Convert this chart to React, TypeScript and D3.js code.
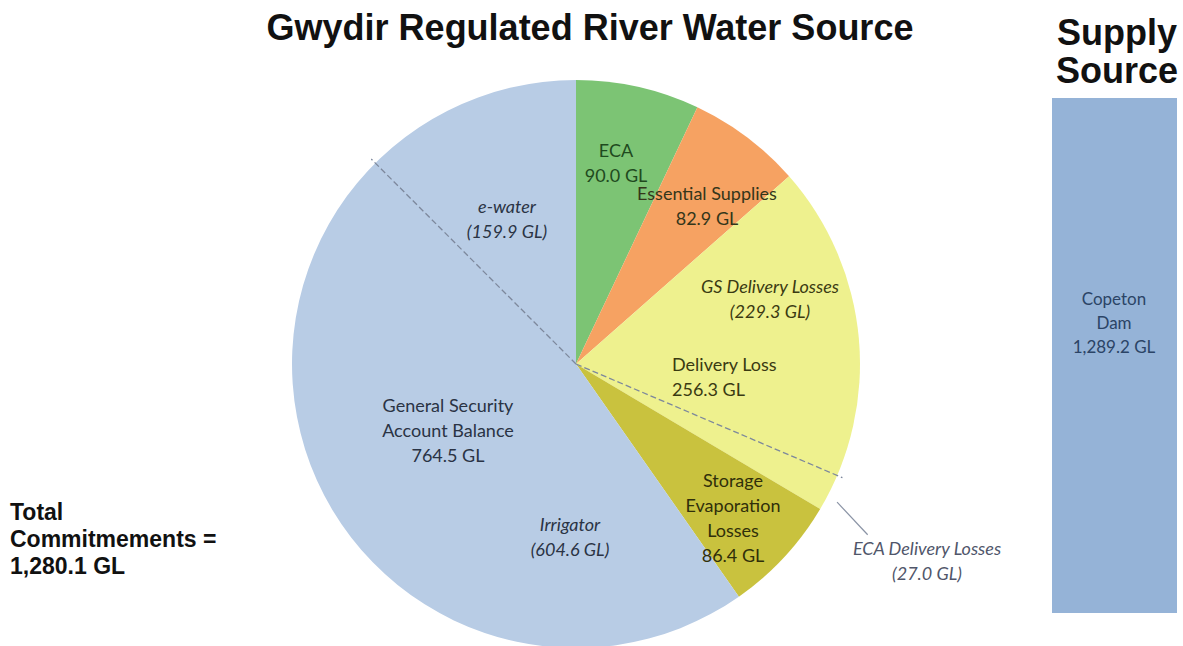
import * as d3 from 'd3';

// commitments, clockwise from 12 o'clock
const sliceNames = ['ECA', 'Essential Supplies', 'Delivery Loss', 'Storage Evaporation Losses', 'General Security Account Balance'];
const sliceValues = [90.0, 82.9, 256.3, 86.4, 764.5];
const sliceColors = ['#7cc474', '#f6a262', '#eef18e', '#c9c23e', '#b8cce5'];

// split of Delivery Loss (GS first, then ECA)
const deliveryParts = ['GS Delivery Losses', 'ECA Delivery Losses'];
const deliveryValues = [229.3, 27.0];

// split of General Security (Irrigator first, then e-water)
const gsParts = ['Irrigator', 'e-water'];
const gsValues = [604.6, 159.9];

const supplyName = ['Copeton', 'Dam'];
const supplyValue = 1289.2;
const totalCommitments = 1280.1;

const W = 1183, H = 646;
const cx = 576, cy = 364, R = 284;
const fmt = d3.format(',.1f');

// label text blocks: [x, first baseline, anchor, italic, color]
const labelLayout: Record<string, [number, number, string, boolean, string]> = {
  'ECA': [616, 157, 'middle', false, '#1f4a1e'],
  'Essential Supplies': [707, 200, 'middle', false, '#34361a'],
  'Delivery Loss': [672, 371, 'start', false, '#3a3a12'],
  'Storage Evaporation Losses': [733, 487, 'middle', false, '#302f0a'],
  'General Security Account Balance': [448, 412, 'middle', false, '#2a3344'],
  'GS Delivery Losses': [770, 293, 'middle', true, '#3a3a12'],
  'Irrigator': [570, 531, 'middle', true, '#2a3344'],
  'e-water': [507, 213, 'middle', true, '#2a3344'],
  'ECA Delivery Losses': [927, 555, 'middle', true, '#50566a'],
};

const lineBreaks: Record<string, string[]> = {
  'ECA': ['ECA'],
  'Essential Supplies': ['Essential Supplies'],
  'Delivery Loss': ['Delivery Loss'],
  'Storage Evaporation Losses': ['Storage', 'Evaporation', 'Losses'],
  'General Security Account Balance': ['General Security', 'Account Balance'],
  'GS Delivery Losses': ['GS Delivery Losses'],
  'Irrigator': ['Irrigator'],
  'e-water': ['e-water'],
  'ECA Delivery Losses': ['ECA Delivery Losses'],
};

function polar(angle: number, r: number): [number, number] {
  return [cx + r * Math.sin(angle), cy - r * Math.cos(angle)];
}

function Label({ name, value, paren }: { name: string; value: number; paren: boolean }) {
  const [x, y, anchor, italic, color] = labelLayout[name];
  const lines = [...lineBreaks[name], paren ? `(${fmt(value)} GL)` : `${fmt(value)} GL`];
  return (
    <text x={x} y={y} textAnchor={anchor as any} fill={color}
      fontStyle={italic ? 'italic' : 'normal'} fontSize={18} fontFamily="Lato, 'Open Sans', sans-serif">
      {lines.map((l, i) => (
        <tspan key={i} x={x} dy={i === 0 ? 0 : 25}>{l}</tspan>
      ))}
    </text>
  );
}

export default function App() {
  const pie = d3.pie<number>().sort(null).value(d => d);
  const arcs = pie(sliceValues);
  const arc = d3.arc<d3.PieArcDatum<number>>().innerRadius(0).outerRadius(R);

  const toAngle = d3.scaleLinear().domain([0, d3.sum(sliceValues)]).range([0, 2 * Math.PI]);

  // divider inside Delivery Loss
  const dlStart = arcs[2].startAngle;
  const dlSplit = dlStart + toAngle(deliveryValues[0]);
  const ecaMid = dlSplit + toAngle(deliveryValues[1]) / 2;

  // divider inside General Security
  const gsSplit = arcs[4].startAngle + toAngle(gsValues[0]);

  const barY = d3.scaleLinear().domain([0, supplyValue]).range([613, 98]);
  const barX = d3.scaleBand().domain(['supply']).range([1052, 1177]).padding(0);

  const [e1x, e1y] = polar(dlSplit, R * 1.02);
  const [g1x, g1y] = polar(gsSplit, R * 1.02);
  const [l0x, l0y] = polar(ecaMid + 0.017, R * 1.04);
  const [l1x, l1y] = polar(ecaMid + 0.06, R * 1.19);

  return (
    <svg width={W} height={H} style={{ position: 'absolute', left: 0, top: 0, background: '#fff' }}>
      <text x={590} y={40} textAnchor="middle" fontFamily="'Liberation Sans', Arial, sans-serif"
        fontWeight="bold" fontSize={36} fill="#111">Gwydir Regulated River Water Source</text>

      <g transform={`translate(${cx},${cy})`}>
        {arcs.map((a, i) => (
          <path key={sliceNames[i]} d={arc(a) ?? ''} fill={sliceColors[i]} />
        ))}
      </g>

      <line x1={cx} y1={cy} x2={e1x} y2={e1y} stroke="#7d889c" strokeWidth={1.3} strokeDasharray="6 3" />
      <line x1={cx} y1={cy} x2={g1x} y2={g1y} stroke="#7d889c" strokeWidth={1.3} strokeDasharray="6 3" />
      <line x1={l0x} y1={l0y} x2={l1x} y2={l1y} stroke="#8a93a5" strokeWidth={1.2} />

      {sliceNames.map((n, i) => (
        <Label key={n} name={n} value={sliceValues[i]} paren={false} />
      ))}
      {deliveryParts.map((n, i) => (
        <Label key={n} name={n} value={deliveryValues[i]} paren={true} />
      ))}
      {gsParts.map((n, i) => (
        <Label key={n} name={n} value={gsValues[i]} paren={true} />
      ))}

      <text x={10} y={520} fontFamily="'Liberation Sans', Arial, sans-serif" fontWeight="bold" fontSize={23} fill="#111">
        <tspan x={10} dy={0}>Total</tspan>
        <tspan x={10} dy={27}>Commitmements =</tspan>
        <tspan x={10} dy={27}>{fmt(totalCommitments)} GL</tspan>
      </text>

      <text x={1117} y={45} textAnchor="middle" fontFamily="'Liberation Sans', Arial, sans-serif"
        fontWeight="bold" fontSize={36} fill="#111">
        <tspan x={1117} dy={0}>Supply</tspan>
        <tspan x={1117} dy={38}>Source</tspan>
      </text>

      <rect x={barX('supply')} y={barY(supplyValue)} width={barX.bandwidth()}
        height={barY(0) - barY(supplyValue)} fill="#95b3d7" />
      <text x={1114} y={305} textAnchor="middle" fontFamily="Lato, 'Open Sans', sans-serif" fontSize={17} fill="#2b4466">
        {supplyName.map((s, i) => (
          <tspan key={s} x={1114} dy={i === 0 ? 0 : 24}>{s}</tspan>
        ))}
        <tspan x={1114} dy={24}>{fmt(supplyValue)} GL</tspan>
      </text>
    </svg>
  );
}
